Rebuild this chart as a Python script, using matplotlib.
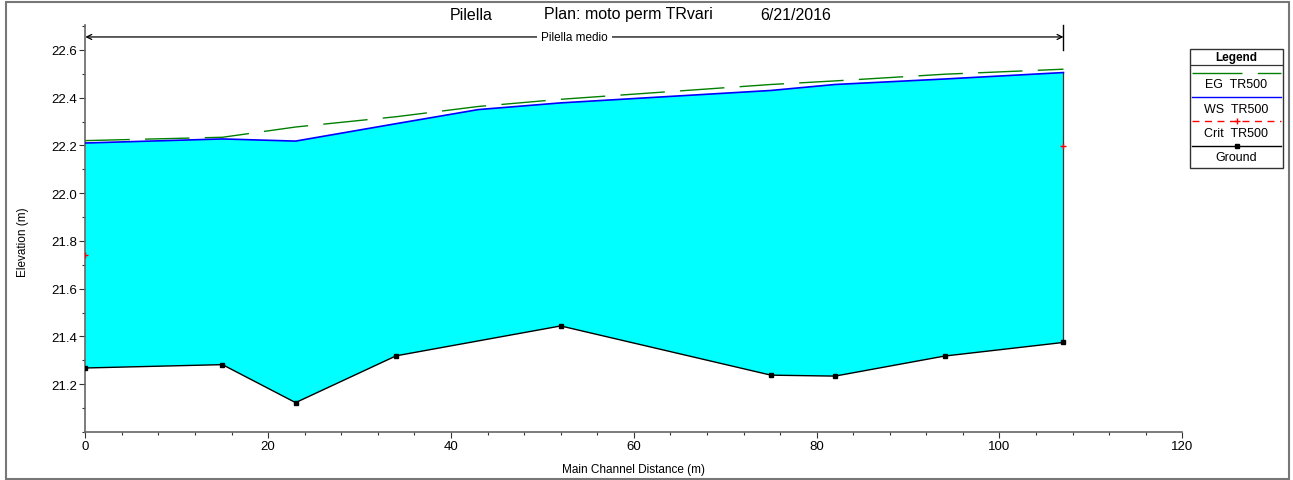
import matplotlib
matplotlib.use("Agg")
import matplotlib.pyplot as plt
import numpy as np
from matplotlib.patches import Rectangle
from matplotlib.ticker import MultipleLocator, FormatStrFormatter

plt.rcParams['font.family'] = ['Liberation Sans', 'DejaVu Sans']

# profile sections along the main channel (m)
ws_x = [0, 15, 23, 34, 43, 52, 75, 82, 94, 107]
eg_tr500 = [22.220, 22.234, 22.277, 22.320, 22.363, 22.393, 22.455, 22.470, 22.498, 22.519]
ws_tr500 = [22.210, 22.227, 22.218, 22.291, 22.350, 22.378, 22.430, 22.455, 22.478, 22.505]

ground_x = [0, 15, 23, 34, 52, 75, 82, 94, 107]
ground = [21.268, 21.282, 21.123, 21.319, 21.444, 21.238, 21.234, 21.318, 21.375]

crit_x = [0, 107]
crit_tr500 = [21.743, 22.197]

reach_name = "Pilella medio"
reach_start, reach_end = 0, 107

title_parts = ["Pilella", "Plan: moto perm TRvari", "6/21/2016"]
legend_labels = ["EG  TR500", "WS  TR500", "Crit  TR500", "Ground"]


def profilePlot():
    fig = plt.figure(figsize=(12.93, 4.81), dpi=100)
    ax = fig.add_axes([0.066, 0.0998, 0.8484, 0.8466])

    # water between ground and water surface
    poly_x = np.concatenate([ws_x, ground_x[::-1]])
    poly_y = np.concatenate([ws_tr500, ground[::-1]])
    ax.fill(poly_x, poly_y, color='#00FFFF', lw=0, zorder=1)

    # downstream section line
    ax.plot([ws_x[-1], ground_x[-1]], [ws_tr500[-1], ground[-1]], color='#333333', lw=0.9, zorder=2)

    ax.plot(ws_x, eg_tr500, color='#008000', lw=1.0, dashes=(32, 11), zorder=3)
    ax.plot(ws_x, ws_tr500, color='#0000FF', lw=1.2, zorder=3)
    ax.plot(crit_x, crit_tr500, ls='none', marker='+', color='#FF0000', ms=5, mew=1, zorder=4)
    ax.plot(ground_x, ground, color='black', lw=1.0, marker='s', ms=3.5, zorder=4)

    ax.set_xlim(0, 120)
    ax.set_ylim(21.0, 22.705)
    ax.xaxis.set_major_locator(MultipleLocator(20))
    ax.xaxis.set_minor_locator(MultipleLocator(4))
    ax.yaxis.set_minor_locator(MultipleLocator(0.1))
    ax.set_yticks([21.2, 21.4, 21.6, 21.8, 22.0, 22.2, 22.4, 22.6])
    ax.yaxis.set_major_formatter(FormatStrFormatter('%.1f'))
    ax.tick_params(which='major', length=4, width=0.8, color='#333333', labelsize=9.5, pad=2)
    ax.tick_params(which='minor', length=2.5, width=0.8, color='#333333')
    for s in ['top', 'right']:
        ax.spines[s].set_visible(False)
    for s in ['left', 'bottom']:
        ax.spines[s].set_color('#666666')
        ax.spines[s].set_linewidth(1.2)

    ax.set_xlabel("Main Channel Distance (m)", fontsize=8.5)
    ax.xaxis.set_label_coords(0.5, -0.076)
    ax.set_ylabel("Elevation (m)", fontsize=8.5)
    ax.yaxis.set_label_coords(-0.0513, 0.469)

    # reach extent bar
    reach_y = 22.654
    ax.annotate("", xy=(reach_start, reach_y), xytext=(reach_end, reach_y),
                arrowprops=dict(arrowstyle='<->', color='black', lw=0.9,
                                shrinkA=0, shrinkB=0, mutation_scale=9),
                annotation_clip=False)
    ax.plot([reach_end, reach_end], [22.60, 22.705], color='black', lw=1.0, clip_on=False)
    ax.text((reach_start + reach_end) / 2, reach_y, reach_name, fontsize=8.5,
            ha='center', va='center',
            bbox=dict(facecolor='white', edgecolor='none', pad=3), zorder=5)

    # title in three pieces
    for part, px in zip(title_parts, [450, 544, 760]):
        fig.text(px / 1293, 1 - 15 / 481, part, ha='left', va='center', fontsize=11.5)

    # legend panel, laid out in figure pixels
    lg = fig.add_axes([1190 / 1293, 1 - 169 / 481, 93 / 1293, 119 / 481])
    lg.set_xlim(1190, 1283)
    lg.set_ylim(169, 50)
    lg.axis('off')
    lg.add_patch(Rectangle((1190, 50), 93, 119, fill=False, edgecolor='#333333', lw=1.0, clip_on=False))
    lg.text(1236.5, 58, "Legend", ha='center', va='center', fontsize=8.5, fontweight='bold')
    lg.plot([1190, 1283], [66, 66], color='#333333', lw=0.9)
    lg.plot([1192, 1281], [74, 74], color='#008000', lw=1.0, dashes=(36, 11))
    lg.plot([1192, 1281], [98, 98], color='#0000FF', lw=1.0)
    lg.plot([1192, 1281], [122, 122], color='#FF0000', lw=1.0, dashes=(5, 4))
    lg.plot([1237], [122], marker='+', color='#FF0000', ms=5, mew=1)
    lg.plot([1192, 1281], [147, 147], color='black', lw=1.0)
    lg.plot([1237], [147], marker='s', color='black', ms=3.5)
    for label, py in zip(legend_labels, [85.5, 110, 134, 158.5]):
        lg.text(1236.5, py, label, ha='center', va='center', fontsize=9)

    # outer frame
    fig.patches.append(Rectangle((6 / 1293, 1 / 481), 1283 / 1293, 477 / 481,
                                 transform=fig.transFigure, fill=False,
                                 edgecolor='#777777', lw=1.5))

    fig.savefig("out.png", dpi=100)


def main():
    profilePlot()


if __name__ == "__main__":
    main()
